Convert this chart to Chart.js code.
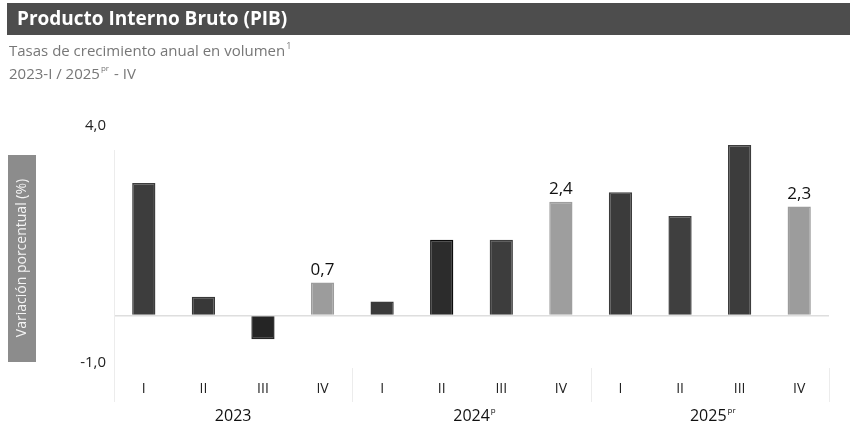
<!DOCTYPE html>
<html>
<head>
<meta charset="utf-8">
<script src="https://cdn.jsdelivr.net/npm/chart.js@4"></script>
<style>
  html, body { margin: 0; padding: 0; background: #fff; }
  #wrap { width: 850px; height: 428px; }
</style>
</head>
<body>
<div id="wrap"><canvas id="pib" width="850" height="428"></canvas></div>
<script>
const quarters = ["I", "II", "III", "IV", "I", "II", "III", "IV", "I", "II", "III", "IV"];
const years = ["2023", "2024", "2025"];
const yearMarks = ["", "p", "pr"];
const growth = [2.8, 0.4, -0.5, 0.7, 0.3, 1.6, 1.6, 2.4, 2.6, 2.1, 3.6, 2.3];
const labelled = [3, 7, 11];
const yTicks = [4, -1];

const barColors = ["#3d3d3d", "#383838", "#252525", "#9c9c9c", "#3a3a3a", "#2c2c2c",
  "#3d3d3d", "#9e9e9e", "#3b3b3b", "#3f3f3f", "#3c3c3c", "#9c9c9c"];
const borderColors = barColors.map((c, i) => (i === 5 ? "#0c0c0c" : c));

const FONT = "'Open Sans', 'Noto Sans', sans-serif";

const decor = {
  id: "decor",
  beforeDraw(chart) {
    const c = chart.ctx;
    c.save();
    // header bar
    c.fillStyle = "#4d4d4d";
    c.fillRect(7, 3, 843, 32);
    c.fillStyle = "#fff";
    c.font = "bold 19px " + FONT;
    c.textBaseline = "middle";
    c.fillText("Producto Interno Bruto (PIB)", 17, 20);
    // subtitle
    c.fillStyle = "#777";
    c.font = "15px " + FONT;
    c.fillText("Tasas de crecimiento anual en volumen", 9, 52);
    let w = c.measureText("Tasas de crecimiento anual en volumen").width;
    c.font = "9px " + FONT;
    c.fillText("1", 9 + w + 1, 46);
    c.font = "15px " + FONT;
    c.fillText("2023-I / 2025", 9, 75);
    w = c.measureText("2023-I / 2025").width;
    c.font = "8px " + FONT;
    c.fillText("pr", 9 + w + 1, 69);
    const w2 = c.measureText("pr").width;
    c.font = "15px " + FONT;
    c.fillText(" - IV", 9 + w + w2 + 2, 75);
    // y title box
    c.fillStyle = "#8c8c8c";
    c.fillRect(8, 155, 28, 207);
    c.translate(22, 258);
    c.rotate(-Math.PI / 2);
    c.fillStyle = "#f4f4f4";
    c.font = "14px " + FONT;
    c.textAlign = "center";
    c.fillText("Variación porcentual (%)", 0, 0);
    c.restore();
  },
  afterDraw(chart) {
    const c = chart.ctx;
    const x = chart.scales.x, y = chart.scales.y;
    const meta = chart.getDatasetMeta(0);
    c.save();
    // faint separators
    c.strokeStyle = "#ececec";
    c.lineWidth = 1;
    [0, 4, 8, 12].forEach(k => {
      const px = Math.round(x.getPixelForValue(k) - (x.getPixelForValue(1) - x.getPixelForValue(0)) / 2) + 0.5;
      c.beginPath();
      c.moveTo(px, k === 0 ? 150 : 368);
      c.lineTo(px, 402);
      c.stroke();
    });
    // value labels
    c.fillStyle = "#111";
    c.font = "17px " + FONT;
    c.textAlign = "center";
    c.textBaseline = "bottom";
    labelled.forEach(i => {
      const bar = meta.data[i];
      c.fillText(growth[i].toFixed(1).replace(".", ","), bar.x, bar.y - 4);
    });
    // year labels
    c.font = "16px " + FONT;
    c.textBaseline = "middle";
    years.forEach((yr, g) => {
      const cx = (x.getPixelForValue(g * 4) + x.getPixelForValue(g * 4 + 3)) / 2;
      c.font = "16px " + FONT;
      const wy = c.measureText(yr).width;
      c.font = "8px " + FONT;
      const ws = yearMarks[g] ? c.measureText(yearMarks[g]).width + 1 : 0;
      const left = cx - (wy + ws) / 2 + (ws ? 3 : 0);
      c.textAlign = "left";
      c.font = "16px " + FONT;
      c.fillText(yr, left, 416);
      if (yearMarks[g]) {
        c.font = "8px " + FONT;
        c.fillText(yearMarks[g], left + wy + 1, 411);
      }
    });
    c.restore();
  }
};

new Chart(document.getElementById("pib"), {
  type: "bar",
  data: {
    labels: quarters,
    datasets: [{
      data: growth,
      backgroundColor: barColors,
      borderColor: borderColors,
      borderWidth: 1.5,
      categoryPercentage: 1,
      barPercentage: 0.39
    }]
  },
  options: {
    responsive: false,
    animation: false,
    events: [],
    layout: { padding: { left: 54, right: 21, top: 126, bottom: 0 } },
    plugins: { legend: { display: false }, tooltip: { enabled: false } },
    scales: {
      x: {
        grid: { display: false },
        border: { display: false },
        ticks: { color: "#222", font: { family: FONT, size: 14 }, padding: 10 },
        afterFit(s) { s.height = 65; }
      },
      y: {
        min: -1,
        max: 4,
        afterBuildTicks(s) { s.ticks = [-1, 0, 4].map(v => ({ value: v })); },
        afterFit(s) { s.width = 60; },
        border: { display: false },
        grid: {
          color: ctx => (ctx.tick && ctx.tick.value === 0 ? "#dedede" : "transparent"),
          lineWidth: 1.5,
          drawTicks: false
        },
        ticks: {
          color: "#222",
          padding: 8,
          font: { family: FONT, size: 15 },
          callback: v => (yTicks.includes(v) ? v.toFixed(1).replace(".", ",") : "")
        }
      }
    }
  },
  plugins: [decor]
});
</script>
</body>
</html>
